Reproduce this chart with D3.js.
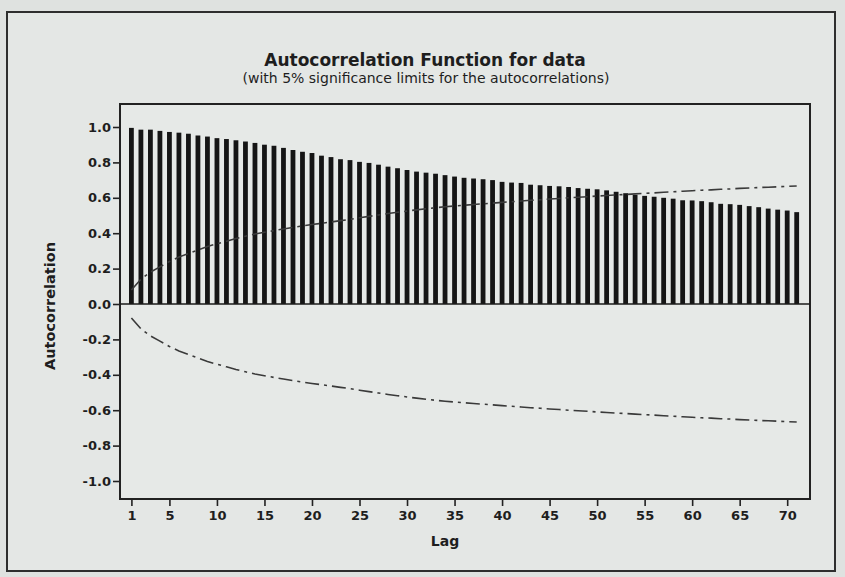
<!DOCTYPE html>
<html>
<head>
<meta charset="utf-8">
<script src="https://cdn.jsdelivr.net/npm/d3@7"></script>
<style>
  body { margin: 0; background: #dfe2e0; }
  svg { display: block; }
  text { font-family: "DejaVu Sans", Verdana, sans-serif; fill: #1e1e1e; }
</style>
</head>
<body>
<div id="chart"></div>
<script>
// autocorrelation at lags 1..71
const lags = d3.range(1, 72);
const acfValues = [
  0.995, 0.985, 0.985, 0.978, 0.972, 0.968, 0.962, 0.952, 0.946, 0.937,
  0.932, 0.925, 0.918, 0.910, 0.900, 0.894, 0.882, 0.870, 0.860, 0.853,
  0.838, 0.830, 0.818, 0.813, 0.803, 0.797, 0.787, 0.776, 0.767, 0.757,
  0.748, 0.742, 0.736, 0.728, 0.720, 0.713, 0.709, 0.705, 0.700, 0.690,
  0.686, 0.684, 0.674, 0.671, 0.667, 0.665, 0.661, 0.655, 0.651, 0.648,
  0.642, 0.634, 0.626, 0.617, 0.611, 0.606, 0.600, 0.595, 0.586, 0.585,
  0.581, 0.575, 0.566, 0.564, 0.560, 0.553, 0.547, 0.539, 0.533, 0.528,
  0.519
];
// 5% significance limit (+/-) at each lag
const limitValues = [
  0.079, 0.140, 0.180, 0.210, 0.240, 0.265, 0.285, 0.305, 0.325, 0.340,
  0.355, 0.370, 0.383, 0.395, 0.405, 0.415, 0.424, 0.433, 0.441, 0.449,
  0.456, 0.463, 0.471, 0.478, 0.487, 0.495, 0.503, 0.511, 0.518, 0.525,
  0.532, 0.538, 0.544, 0.549, 0.554, 0.558, 0.562, 0.566, 0.570, 0.574,
  0.578, 0.582, 0.586, 0.589, 0.593, 0.596, 0.600, 0.603, 0.606, 0.610,
  0.613, 0.616, 0.619, 0.622, 0.625, 0.628, 0.631, 0.634, 0.637, 0.640,
  0.643, 0.645, 0.648, 0.650, 0.653, 0.655, 0.658, 0.660, 0.662, 0.665,
  0.667
];
const xTicks = [1, 5, 10, 15, 20, 25, 30, 35, 40, 45, 50, 55, 60, 65, 70];
const yTicks = [-1.0, -0.8, -0.6, -0.4, -0.2, 0.0, 0.2, 0.4, 0.6, 0.8, 1.0];

const titleText = "Autocorrelation Function for data";
const subtitleText = "(with 5% significance limits for the autocorrelations)";

const W = 845, H = 577;
const plot = { left: 120, right: 810, top: 104, bottom: 499 };

const svg = d3.select("#chart").append("svg")
  .attr("width", W).attr("height", H);

// outer frame
svg.append("rect")
  .attr("x", 7).attr("y", 12).attr("width", 828).attr("height", 559)
  .attr("fill", "#e4e7e5").attr("stroke", "#2e2e2e").attr("stroke-width", 2);

const x = d3.scaleLinear().domain([-0.2, 72.4]).range([plot.left, plot.right]);
const y = d3.scaleLinear().domain([-1, 1]).range([481, 127]);

// plot area
svg.append("rect")
  .attr("x", plot.left).attr("y", plot.top)
  .attr("width", plot.right - plot.left).attr("height", plot.bottom - plot.top)
  .attr("fill", "#e6e9e7").attr("stroke", "#222").attr("stroke-width", 2);

// bars
svg.append("g").selectAll("rect")
  .data(lags)
  .join("rect")
  .attr("x", d => x(d) - 2.4)
  .attr("width", 4.8)
  .attr("y", (d, i) => y(acfValues[i]))
  .attr("height", (d, i) => y(0) - y(acfValues[i]))
  .attr("fill", "#151515");

// zero line
svg.append("line")
  .attr("x1", plot.left).attr("x2", plot.right)
  .attr("y1", y(0)).attr("y2", y(0))
  .attr("stroke", "#1a1a1a").attr("stroke-width", 1.5);

// significance limits
const limLine = d3.line().x(d => x(d[0])).y(d => y(d[1]));
const upper = lags.map((d, i) => [d, limitValues[i]]);
const lower = lags.map((d, i) => [d, -limitValues[i]]);
[upper, lower].forEach(pts => {
  svg.append("path")
    .attr("d", limLine(pts))
    .attr("fill", "none")
    .attr("stroke", "#3a3a3a")
    .attr("stroke-width", 1.6)
    .attr("stroke-dasharray", "14,5,3,5");
});

// axes
const yAxis = svg.append("g")
  .attr("transform", "translate(" + plot.left + ",0)")
  .call(d3.axisLeft(y).tickValues(yTicks).tickFormat(d3.format(".1f")).tickSize(7).tickPadding(2));
const xAxis = svg.append("g")
  .attr("transform", "translate(0," + plot.bottom + ")")
  .call(d3.axisBottom(x).tickValues(xTicks).tickSize(7).tickPadding(5));

[xAxis, yAxis].forEach(a => {
  a.select(".domain").remove();
  a.selectAll(".tick line").attr("stroke", "#222").attr("stroke-width", 1.6);
  a.selectAll(".tick text")
    .style("font-family", "'DejaVu Sans', Verdana, sans-serif")
    .style("font-size", "13px")
    .style("font-weight", "bold")
    .attr("fill", "#262626");
});
yAxis.selectAll(".tick text").text(d => d3.format(".1f")(d).replace("−", "-"));

// titles
svg.append("text")
  .attr("x", 425).attr("y", 66)
  .attr("text-anchor", "middle")
  .style("font-size", "17px").style("font-weight", "bold")
  .text(titleText);
svg.append("text")
  .attr("x", 426).attr("y", 83)
  .attr("text-anchor", "middle")
  .style("font-size", "14px")
  .text(subtitleText);

svg.append("text")
  .attr("x", 445).attr("y", 546)
  .attr("text-anchor", "middle")
  .style("font-size", "14px").style("font-weight", "bold")
  .text("Lag");

svg.append("text")
  .attr("transform", "translate(55,306) rotate(-90)")
  .attr("text-anchor", "middle")
  .style("font-size", "14.5px").style("font-weight", "bold")
  .text("Autocorrelation");
</script>
</body>
</html>
